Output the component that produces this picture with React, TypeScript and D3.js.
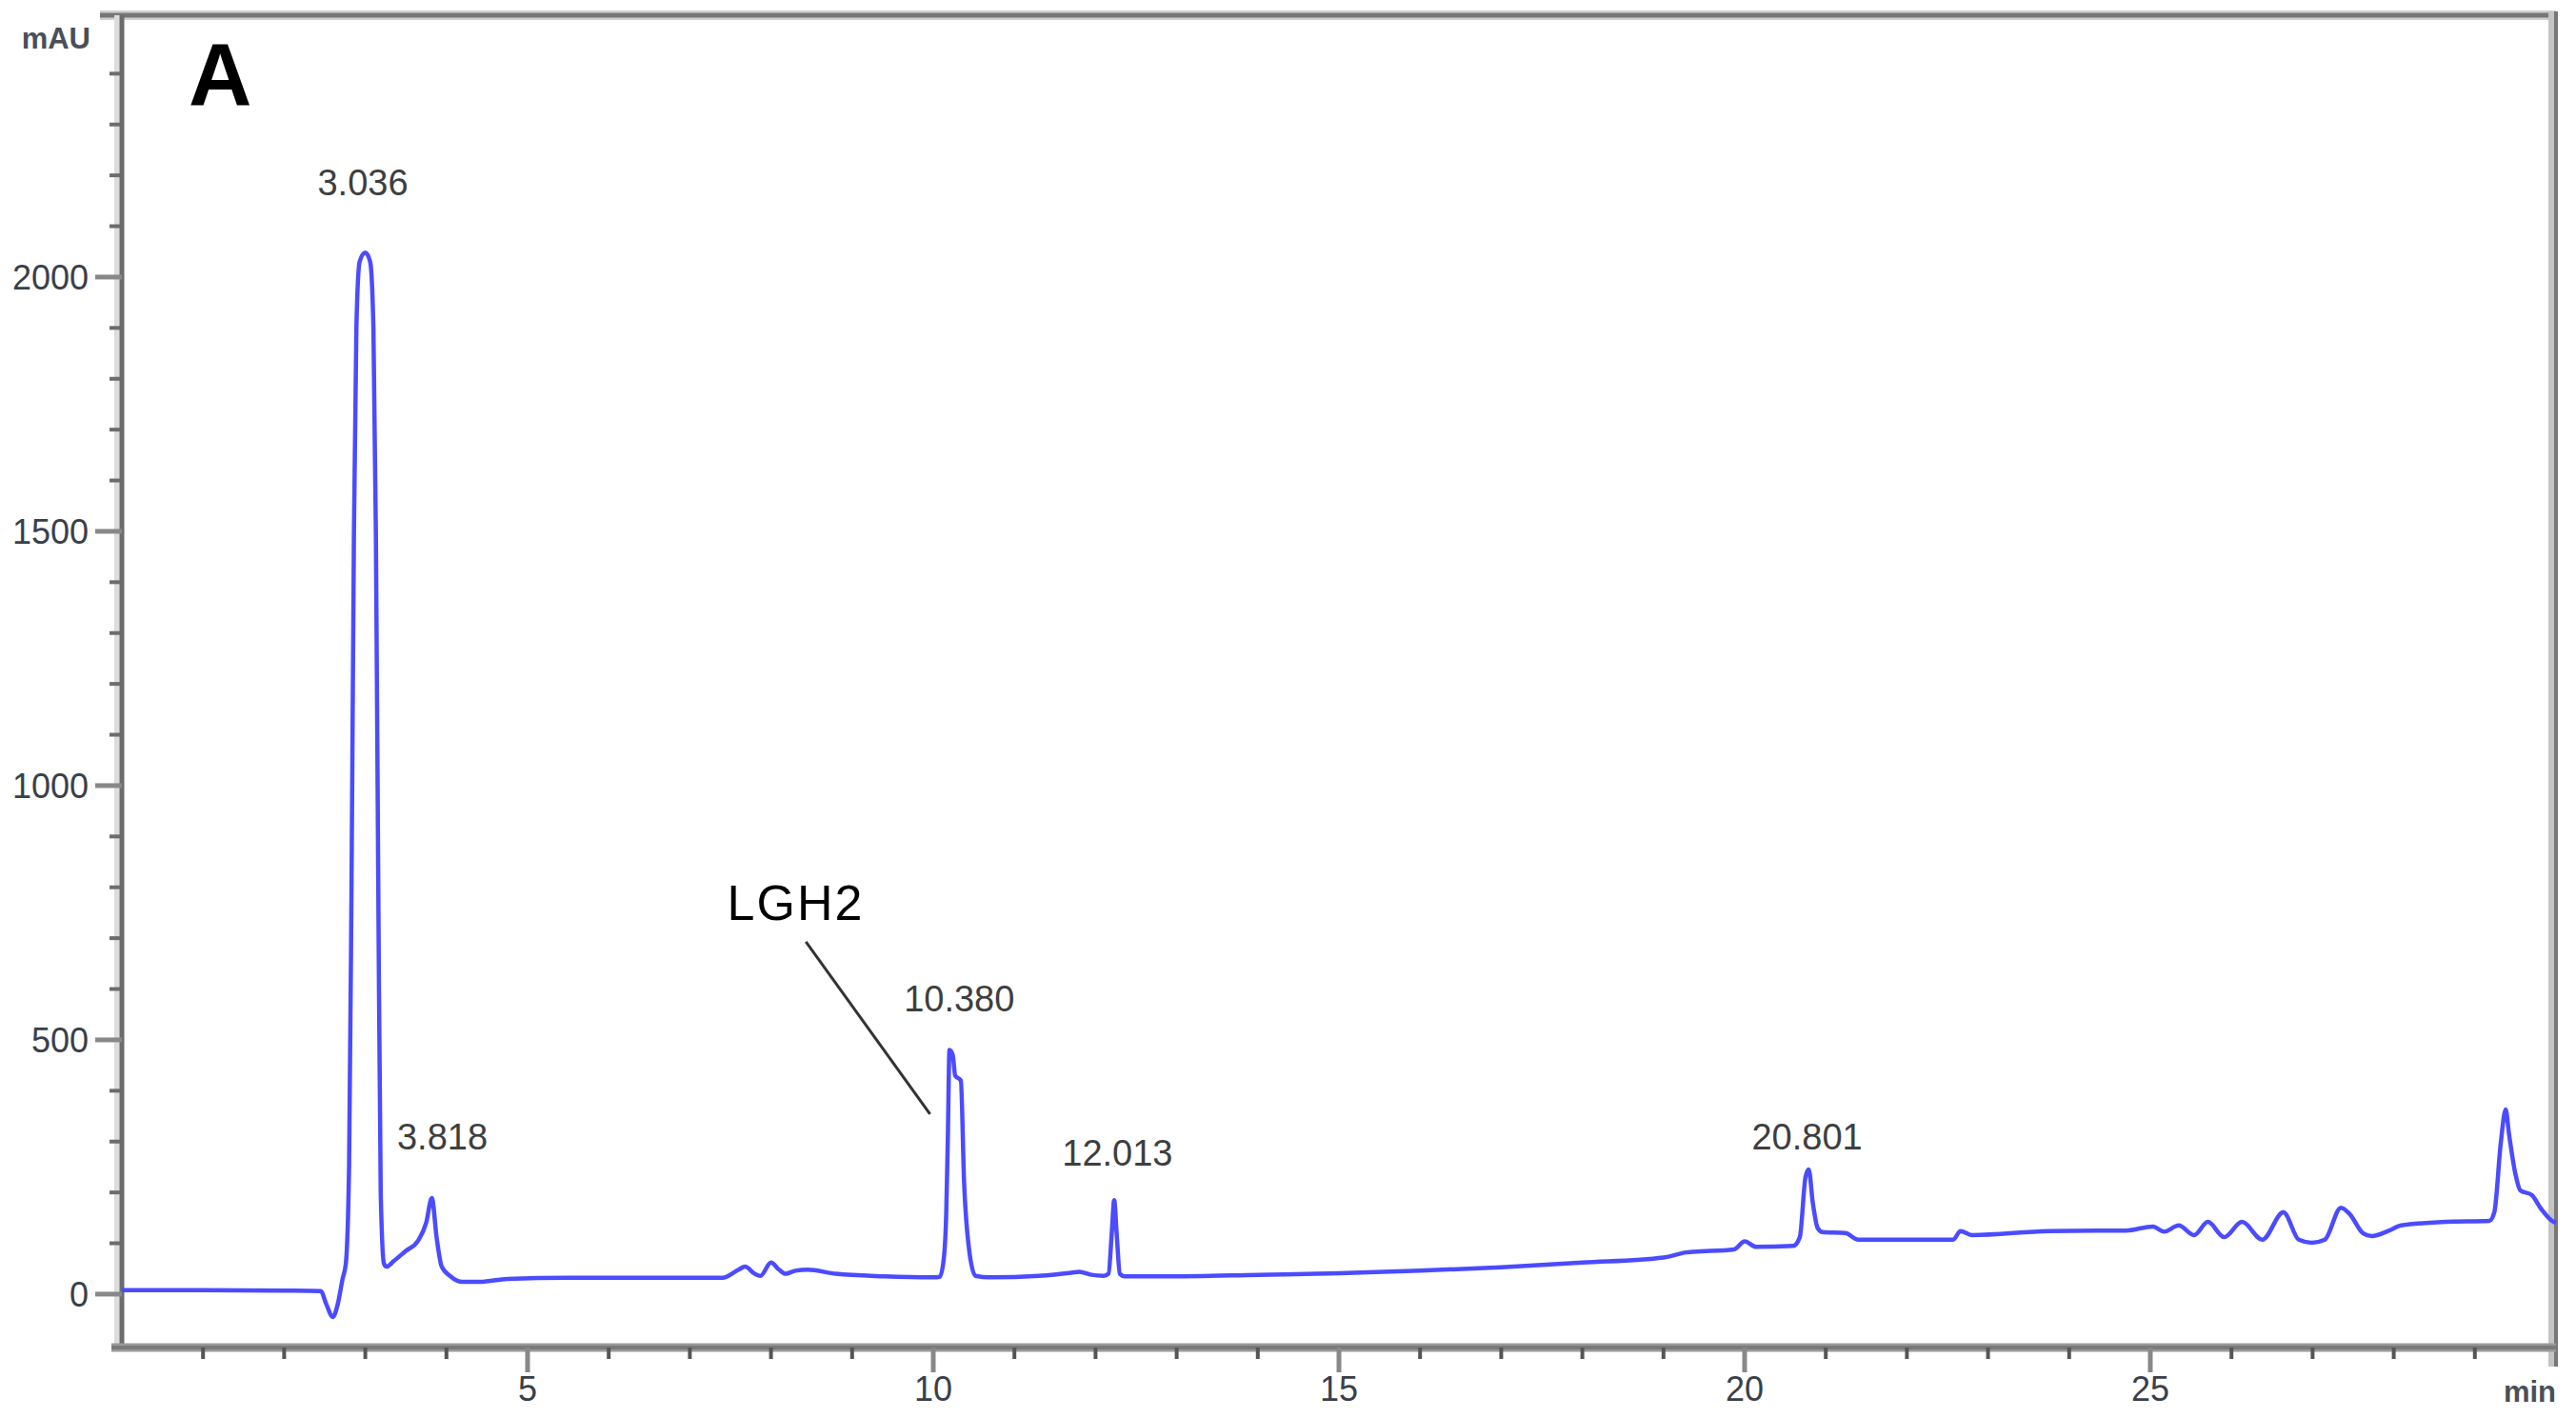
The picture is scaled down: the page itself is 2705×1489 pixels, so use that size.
import React from 'react';
import * as d3 from 'd3';

// chromatogram trace: retention time (min) and absorbance (mAU)
const times = [
  0, 1.0, 2.0, 2.45, 2.52, 2.6, 2.66, 2.72, 2.76, 2.8, 2.83, 2.86, 2.89, 2.93, 3.0, 3.06, 3.1, 3.13,
  3.16, 3.19, 3.23, 3.26, 3.35, 3.5, 3.65, 3.75, 3.82, 3.88, 3.94, 4.05, 4.2, 4.4, 4.75, 5.5, 6.5,
  7.4, 7.6, 7.68, 7.8, 7.87, 8.0, 8.1, 8.18, 8.3, 8.45, 8.8, 9.4, 10.0, 10.08, 10.13, 10.16, 10.18,
  10.2, 10.24, 10.27, 10.34, 10.38, 10.44, 10.52, 10.7, 11.3, 11.7, 11.8, 11.95, 12.1, 12.16, 12.2,
  12.23, 12.26, 12.3, 12.36, 13.0, 14.0, 15.0, 16.0, 17.0, 18.0, 19.0, 19.28, 19.87, 20.0, 20.14, 20.6,
  20.68, 20.75, 20.79, 20.84, 20.9, 20.96, 21.24, 21.4, 22.57, 22.66, 22.8, 23.74, 24.33, 24.7,
  25.03, 25.17, 25.35, 25.54, 25.71, 25.91, 26.13, 26.38, 26.64, 26.83, 26.99, 27.15, 27.35, 27.46,
  27.62, 27.73, 27.93, 28.09, 28.64, 29.18, 29.24, 29.32, 29.38, 29.42, 29.5, 29.56, 29.7, 29.82,
  29.97, 30.0,
];
const signal = [
  8, 8, 7, 6, -20, -45, -20, 30, 60, 250, 800, 1500, 1900, 2030, 2048, 2030, 1900, 1500,
  800, 200, 60, 54, 65, 85, 105, 140, 189, 110, 55, 35, 24, 24, 30, 32, 32,
  32, 48, 54, 40, 36, 62, 48, 40, 46, 48, 40, 35, 33, 34, 70, 160, 310,
  480, 470, 430, 420, 220, 90, 36, 33, 36, 42, 44, 38, 36, 40, 120,
  185, 120, 40, 35, 35, 38, 41, 46, 53, 62, 72, 82, 88, 104, 93, 95,
  112, 230, 245, 180, 130, 122, 120, 107, 107, 124, 116, 124, 125, 125,
  133, 123, 135, 116, 142, 112, 142, 107, 161, 107, 101, 107, 170, 157,
  120, 114, 124, 135, 142, 144, 161, 298, 363, 316, 236, 204, 195, 167,
  142, 140,
];

// peak labels, anchored in data units (time, mAU)
const peakLabels = ['3.036', '3.818', '10.380', '12.013', '20.801'];
const peakLabelTimes = [2.97, 3.95, 10.32, 12.27, 20.77];
const peakLabelLevels = [2161, 285, 556, 253, 285];

const xTicks = [5, 10, 15, 20, 25];
const yTicks = [0, 500, 1000, 1500, 2000];

const W = 2705;
const H = 1489;
const left = 128;
const right = 2684;
const top = 17;
const bottom = 1415;

export default function App() {
  const x = d3.scaleLinear().domain([0, 30]).range([left, right]);
  const y = d3.scaleLinear().domain([-105, 2513]).range([bottom, top]);

  const pts = times.map((t, i) => [t, signal[i]] as [number, number]);
  const line = d3.line<[number, number]>()
    .x(d => x(d[0]))
    .y(d => y(d[1]))
    .curve(d3.curveMonotoneX);

  const minorX = d3.range(1, 30);
  const minorY = d3.range(100, 2500, 100).filter(v => v % 500 !== 0);

  const font = '"Liberation Sans", Arial, sans-serif';
  const axisCol = '#6c6c6c';

  return (
    <svg width={W} height={H} style={{ position: 'absolute', left: 0, top: 0, background: '#fff' }}>
      {/* frame */}
      <line x1={105} x2={right} y1={16} y2={16} stroke="#d0d0d0" strokeWidth={10} />
      <line x1={105} x2={right} y1={16} y2={16} stroke="#777" strokeWidth={5} />
      <line x1={right - 3} x2={right - 3} y1={12} y2={bottom + 20} stroke="#c4c4c4" strokeWidth={10} />
      <line x1={right} x2={right} y1={12} y2={bottom + 20} stroke="#777" strokeWidth={4} />
      <line x1={left - 4} x2={left - 4} y1={16} y2={bottom} stroke="#dcdcdc" strokeWidth={8} />
      <line x1={left} x2={left} y1={16} y2={bottom} stroke={axisCol} strokeWidth={5} />
      <line x1={117} x2={right} y1={bottom} y2={bottom} stroke="#999" strokeWidth={9} />
      <line x1={117} x2={right} y1={bottom} y2={bottom} stroke="#7a7a7a" strokeWidth={4} />

      {/* y ticks */}
      {minorY.map(v => (
        <line key={'my' + v} x1={left - 13} x2={left} y1={y(v)} y2={y(v)} stroke={axisCol} strokeWidth={4} />
      ))}
      {yTicks.map(v => (
        <g key={'y' + v}>
          <line x1={left - 28} x2={left} y1={y(v)} y2={y(v)} stroke="#888" strokeWidth={5} />
          <text x={93} y={y(v)} dy="0.36em" textAnchor="end" fontFamily={font} fontSize={36} fill="#3a3f48">{v}</text>
        </g>
      ))}

      {/* x ticks */}
      {minorX.filter(t => t % 5 !== 0).map(t => (
        <line key={'mx' + t} x1={x(t)} x2={x(t)} y1={bottom} y2={bottom + 12} stroke="#555" strokeWidth={4} />
      ))}
      {xTicks.map(t => (
        <g key={'x' + t}>
          <line x1={x(t)} x2={x(t)} y1={bottom} y2={bottom + 26} stroke="#888" strokeWidth={5} />
          <text x={x(t)} y={1471} textAnchor="middle" fontFamily={font} fontSize={36} fill="#3a3f48">{t}</text>
        </g>
      ))}

      <text x={95} y={51} textAnchor="end" fontFamily={font} fontSize={31} fontWeight="bold" fill="#4a4f58">mAU</text>
      <text x={right} y={1472} textAnchor="end" fontFamily={font} fontSize={31} fontWeight="bold" fill="#4a4f58">min</text>

      {/* trace */}
      <path d={line(pts) || ''} fill="none" stroke="#4b4bff" strokeWidth={4.5} strokeLinejoin="round" />

      {/* peak labels */}
      {peakLabels.map((s, i) => (
        <text key={s} x={x(peakLabelTimes[i])} y={y(peakLabelLevels[i])} textAnchor="middle"
          fontFamily={font} fontSize={38} fill="#3e3e3e">{s}</text>
      ))}

      {/* compound annotation */}
      <text x={x(7.46)} y={y(736)} fontFamily={font} fontSize={52} fill="#000" letterSpacing={2}>LGH2</text>
      <line x1={x(8.43)} y1={y(693)} x2={x(9.96)} y2={y(354)} stroke="#333" strokeWidth={3} />

      <text x={198} y={110} fontFamily={font} fontSize={92} fontWeight="bold" fill="#000">A</text>
    </svg>
  );
}
